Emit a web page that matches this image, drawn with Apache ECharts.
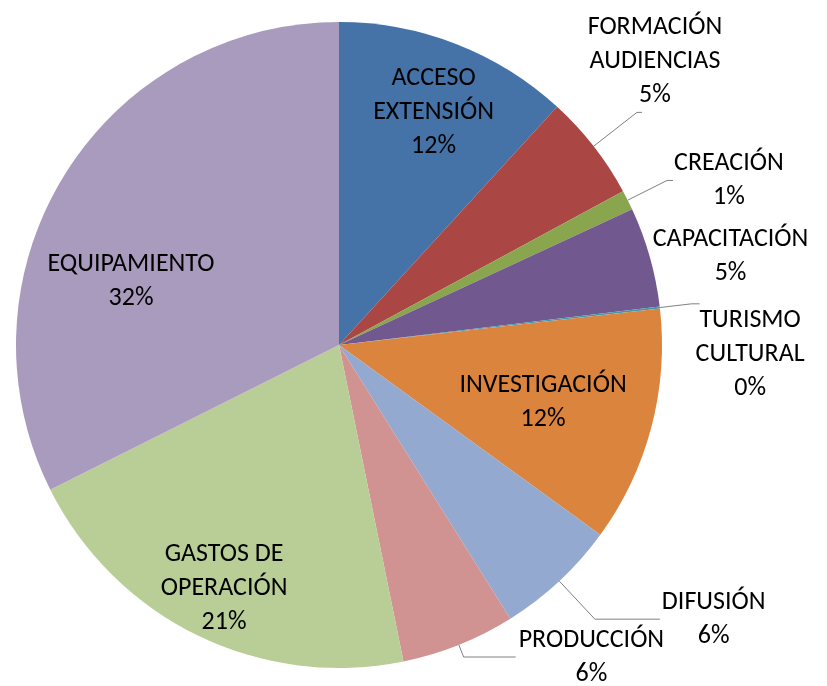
<!DOCTYPE html>
<html>
<head>
<meta charset="utf-8">
<script src="https://cdn.jsdelivr.net/npm/echarts@6/dist/echarts.min.js"></script>
<style>
  html, body { margin: 0; padding: 0; background: #fff; }
  #container { width: 827px; height: 686px; }
</style>
</head>
<body>
<div id="container"></div>
<script>
  var categories = ['ACCESO\nEXTENSIÓN', 'FORMACIÓN\nAUDIENCIAS', 'CREACIÓN', 'CAPACITACIÓN', 'TURISMO\nCULTURAL',
    'INVESTIGACIÓN', 'DIFUSIÓN', 'PRODUCCIÓN', 'GASTOS DE\nOPERACIÓN', 'EQUIPAMIENTO'];
  var values = [11.8, 5.3, 1.0, 5.0, 0.1, 11.8, 6.1, 5.7, 20.8, 32.4];
  var colors = ['#4572A7', '#AA4643', '#89A54E', '#71588F', '#4198AF',
    '#DB843D', '#93A9CF', '#D19392', '#B9CD96', '#A99BBD'];

  // where each label goes: inside labels get a nudge from the default spot,
  // outside labels get their own leader line
  var labelPlace = [
    { pos: 'inside', nudge: [35, -79] },
    { pos: 'outside', len: 55, len2: 5, dist: 13, align: 'center', valign: 'bottom' },
    { pos: 'outside', len: 44, len2: 6, dist: 1, align: 'left', valign: 'middle' },
    { pos: 'outside', len: 0, len2: 0, dist: 3, align: 'left', valign: 'middle', noLine: true },
    { pos: 'outside', len: 32, len2: 8, dist: -4, align: 'left', valign: 'top' },
    { pos: 'inside', nudge: [45, 16] },
    { pos: 'outside', len: 52, len2: 65, dist: 2, align: 'left', valign: 'middle' },
    { pos: 'outside', len: 13, len2: 52, dist: 3, align: 'left', valign: 'middle' },
    { pos: 'inside', nudge: [-43, 96] },
    { pos: 'inside', nudge: [-68, 23] }
  ];

  var fontFamily = '"Liberation Sans Narrow", Carlito, Lato, sans-serif';

  var pieData = categories.map(function (name, i) {
    var p = labelPlace[i];
    var item = {
      name: name,
      value: values[i],
      itemStyle: { color: colors[i] },
      label: { position: p.pos }
    };
    if (p.pos === 'outside') {
      item.label.distanceToLabelLine = p.dist;
      item.labelLine = { show: !p.noLine, length: p.len, length2: p.len2 };
    }
    return item;
  });

  var chart = echarts.init(document.getElementById('container'));
  var option = {
    backgroundColor: '#fff',
    animation: false,
    series: [
      {
        type: 'pie',
        center: [339, 345],
        radius: 323,
        startAngle: 90,
        clockwise: true,
        avoidLabelOverlap: false,
        itemStyle: { borderWidth: 0 },
        emphasis: { disabled: true },
        label: {
          color: '#000',
          formatter: function (params) {
            var lines = params.name.split('\n');
            lines.push(Math.round(params.percent) + '%');
            return lines.map(function (s) { return '{c|' + s + '}'; }).join('\n');
          },
          rich: {
            c: { align: 'center', fontSize: 26, lineHeight: 34, fontFamily: fontFamily, color: '#000' }
          }
        },
        labelLine: {
          smooth: false,
          lineStyle: { color: '#808080', width: 1 }
        },
        labelLayout: function (params) {
          var p = labelPlace[params.dataIndex];
          var r = params.labelRect;
          if (p.pos === 'inside') {
            return {
              x: r.x + r.width / 2 + p.nudge[0],
              y: r.y + r.height / 2 + p.nudge[1]
            };
          }
          return { align: p.align, verticalAlign: p.valign };
        },
        data: pieData
      }
    ]
  };
  chart.setOption(option);
</script>
</body>
</html>
